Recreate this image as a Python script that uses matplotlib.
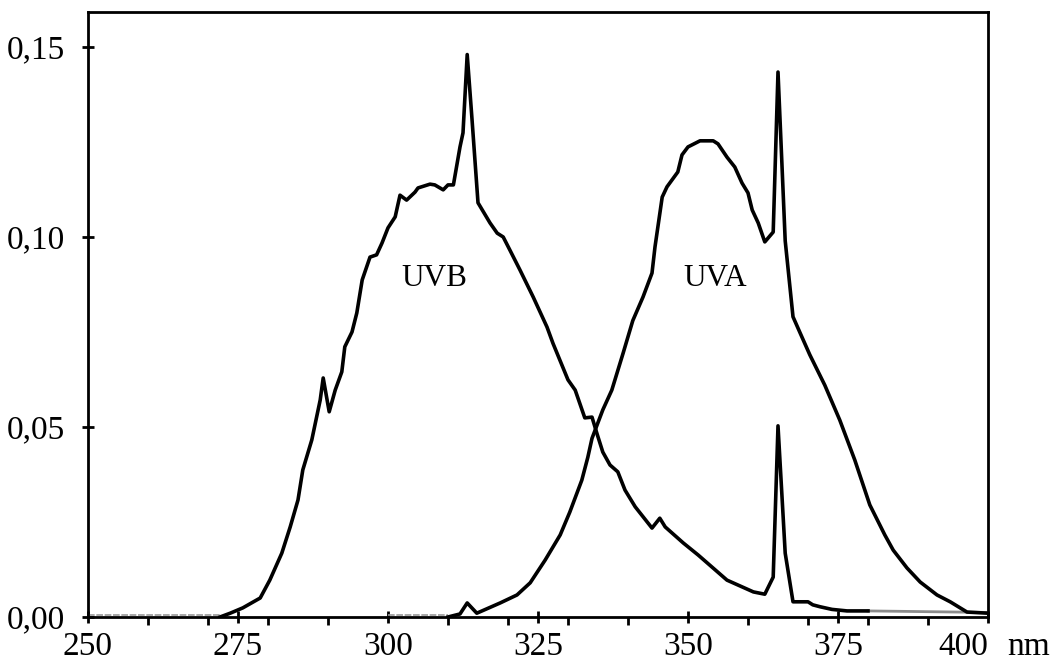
import numpy as np
import matplotlib
matplotlib.use("Agg")
import matplotlib.pyplot as plt

plt.rcParams["font.family"] = ["Liberation Serif", "DejaVu Serif"]

# -------------------------------
# Spectra (wavelength nm, irradiance)
# -------------------------------
uvb_wl = [272, 273.7, 275.8, 278.7, 280.3, 282.3, 283.7, 285, 285.8, 287.3, 288.7,
          289.2, 290.2, 291.2, 292.3, 292.8, 294, 294.8, 295.7, 297, 298.1, 299,
          300, 301.2, 302, 303.1, 304.5, 305, 307, 307.8, 309.2, 310, 310.9, 312,
          312.5, 313.2, 314, 315, 317, 318.2, 319.2, 320.3, 322, 324.2, 326.5,
          327.5, 330, 331.2, 332.8, 334, 334.8, 335.8, 337, 338.3, 339.5, 341.2,
          342.3, 344, 345.3, 346.2, 349.2, 351.7, 356.5, 360.9, 362.8, 364.2, 365,
          366.2, 367.5, 370, 370.8, 372, 374, 376.5, 380]
uvb_val = [0.0, 0.001, 0.0024, 0.005, 0.0097, 0.0168, 0.0237, 0.0308, 0.0387, 0.0466, 0.0571,
           0.0629, 0.054, 0.0597, 0.0645, 0.0711, 0.075, 0.080, 0.0887, 0.0947, 0.0953, 0.0984,
           0.1024, 0.1053, 0.111, 0.1097, 0.1118, 0.1129, 0.1139, 0.1137, 0.1124, 0.1137, 0.1137, 0.1237,
           0.1274, 0.148, 0.131, 0.109, 0.1037, 0.101, 0.100, 0.0966, 0.0913, 0.0842, 0.0763,
           0.072, 0.0624, 0.0597, 0.0524, 0.0526, 0.0484, 0.0434, 0.040, 0.0382, 0.0334, 0.029,
           0.0268, 0.0234, 0.026, 0.0237, 0.0195, 0.0163, 0.0097, 0.0066, 0.006, 0.0105, 0.0503,
           0.0168, 0.004, 0.004, 0.0032, 0.0027, 0.002, 0.0016, 0.0016]
uvb_tail_wl = [380, 390, 400]
uvb_tail_val = [0.0016, 0.0014, 0.0012]

uva_wl = [310, 312, 313.2, 314.8, 318.7, 321.5, 323.7, 326.2, 328.7, 330.3, 332.3,
          333.3, 334, 335.8, 337.3, 339.2, 340.8, 342.5, 344, 344.5, 345.7, 346.5,
          348.3, 349, 350, 352, 354.2, 355, 356.5, 357.8, 359, 360, 360.7, 361.7,
          362.8, 364.2, 365, 366.2, 367.5, 368.7, 370.3, 372.8, 375.3, 377.8, 380.3,
          382.8, 384.2, 386.5, 388.7, 391.5, 393.7, 396.5, 400]
uva_val = [0.0, 0.0008, 0.0037, 0.001, 0.0037, 0.0058, 0.009, 0.015, 0.0216, 0.0276, 0.036,
           0.042, 0.047, 0.0545, 0.0597, 0.0695, 0.078, 0.0842, 0.0905, 0.0974, 0.1105, 0.1132,
           0.1171, 0.1216, 0.1237, 0.1253, 0.1253, 0.1245, 0.121, 0.1184, 0.1142, 0.1116, 0.1071, 0.1037,
           0.0987, 0.1013, 0.1434, 0.099, 0.079, 0.0747, 0.069, 0.061, 0.0518, 0.0413, 0.0295,
           0.0216, 0.0176, 0.0129, 0.0092, 0.0058, 0.004, 0.0013, 0.001]

x_ticks = [250, 275, 300, 325, 350, 375, 400]
x_minor = [260, 270, 280, 290, 310, 320, 330, 340, 360, 370, 380, 390]
y_ticks = [0.0, 0.05, 0.10, 0.15]
y_labels = ["0,00", "0,05", "0,10", "0,15"]

# -------------------------------
# Plot
# -------------------------------
fig = plt.figure(figsize=(10.51, 6.61), dpi=100)
ax = fig.add_axes([88 / 1051, 44 / 661, 900 / 1051, 605 / 661])

ax.plot([250, 272], [0.0005, 0.0005], color="0.6", lw=1.2, ls=(0, (4, 1)))
ax.plot([300, 310], [0.0005, 0.0005], color="0.6", lw=1.2, ls=(0, (4, 1)))
ax.plot(uvb_tail_wl, uvb_tail_val, color="0.55", lw=2.0)
ax.plot(uvb_wl, uvb_val, color="black", lw=2.6, solid_joinstyle="round")
ax.plot(uva_wl, uva_val, color="black", lw=2.6, solid_joinstyle="round")

ax.text(307.8, 0.089, "UVB", fontsize=22.5, ha="center", va="center")
ax.text(354.5, 0.089, "UVA", fontsize=22.5, ha="center", va="center")

ax.set_xlim(250, 400)
ax.set_ylim(0, 0.1592)

ax.set_xticks(x_ticks)
ax.set_xticks(x_minor, minor=True)
ax.set_xticklabels([str(t) for t in x_ticks])
ax.set_yticks(y_ticks)
ax.set_yticklabels(y_labels)

ax.tick_params(axis="x", which="major", direction="inout", length=9, width=2,
               labelsize=24, pad=6)
ax.tick_params(axis="x", which="minor", direction="out", length=6, width=2)
ax.tick_params(axis="y", which="major", direction="inout", length=9, width=2,
               labelsize=24, pad=12)

last = ax.get_xticklabels()[-1]
last.set_horizontalalignment("right")
ax.annotate("nm", xy=(400, 0), xycoords=("data", "axes fraction"),
            xytext=(14, -10.5), textcoords="offset points",
            ha="left", va="top", fontsize=24)

for s in ax.spines.values():
    s.set_linewidth(2)

plt.savefig("out.png", dpi=100)
